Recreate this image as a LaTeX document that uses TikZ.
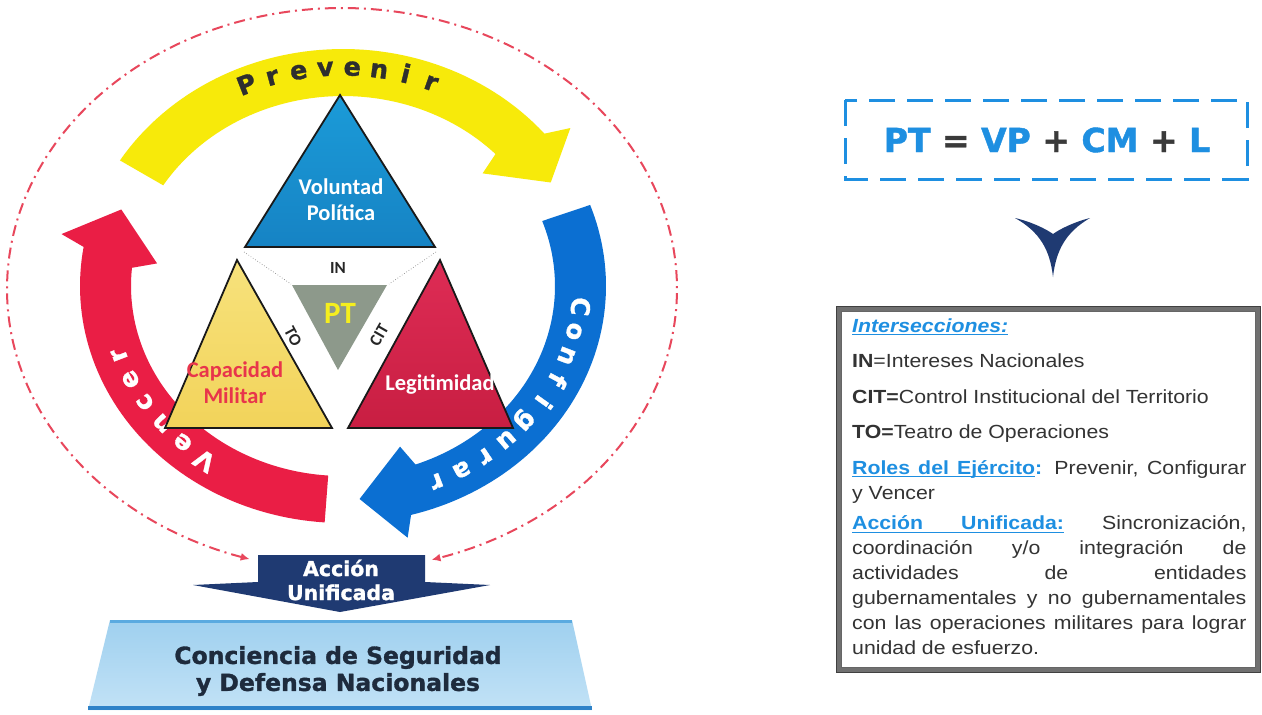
\documentclass[tikz,border=0pt]{standalone}
\usepackage{fontspec}
\setmainfont{Liberation Sans}
\newfontfamily\carl{Carlito}
\newfontfamily\heavy{DejaVu Sans}[BoldFeatures={FakeBold=1.3}]
\usepackage{graphicx}
\usetikzlibrary{arrows.meta}
\definecolor{ptblue}{HTML}{1E8FE1}
\definecolor{opgray}{HTML}{3A3A3A}
\definecolor{txt}{HTML}{333333}
\definecolor{arrY}{HTML}{F7EA0A}
\definecolor{arrB}{HTML}{0B6FD2}
\definecolor{arrR}{HTML}{EA1E45}
\definecolor{triB}{HTML}{1B9BD8}
\definecolor{triBd}{HTML}{1683C4}
\definecolor{triY}{HTML}{F7E27C}
\definecolor{triYd}{HTML}{F2D35A}
\definecolor{triR}{HTML}{DE2C55}
\definecolor{triRd}{HTML}{C81E42}
\definecolor{triG}{HTML}{8D998B}
\definecolor{navy}{HTML}{1F3A72}
\definecolor{dashred}{HTML}{E8475C}
\definecolor{slabA}{HTML}{9FD0EF}
\definecolor{slabB}{HTML}{C2E2F6}
\definecolor{slabTop}{HTML}{5AAAE0}
\definecolor{slabBot}{HTML}{2E82C8}
\definecolor{capred}{HTML}{E8354B}
\definecolor{ptyellow}{HTML}{F5EE1E}
\definecolor{textnavy}{HTML}{1E2B3D}
\definecolor{framegray}{HTML}{707070}
% underline helpers
\newcommand\uword[1]{\leavevmode\setbox0\hbox{#1}\rlap{\rule[-3pt]{\wd0}{1pt}}\box0}
\newcommand\ulspace{\leavevmode\leaders\hrule height -2pt depth 3pt\hskip\fontdimen2\font plus\fontdimen3\font minus\fontdimen4\font\relax}
% ellipse parameters of the ring of arrows
\def\Ccx{343}\def\Ccy{286}
\def\Crox{263}\def\Croy{237}
\def\Crix{212}\def\Criy{190}
\def\Crmx{237.5}\def\Crmy{213.5}
\def\Crbx{229.5}\def\Crby{205.5}
% #1 colour, #2 start, #3 outer shaft end, #4 outer barb, #5 tip, #6 inner barb, #7 inner shaft end
\newcommand\ringarrow[7]{%
  \fill[#1] plot[domain=#2:#3,samples=60] ({\Ccx+\Crox*cos(\x)},{\Ccy-\Croy*sin(\x)})
    -- ({\Ccx+1.21*\Crmx*cos(#4)},{\Ccy-1.21*\Crmy*sin(#4)})
    -- ({\Ccx+\Crmx*cos(#5)},{\Ccy-\Crmy*sin(#5)})
    -- ({\Ccx+0.79*\Crmx*cos(#6)},{\Ccy-0.79*\Crmy*sin(#6)})
    -- plot[domain=#7:#2,samples=60] ({\Ccx+\Crix*cos(\x)},{\Ccy-\Criy*sin(\x)}) -- cycle;}
% #1 letters, #2 first angle, #3 step, #4 style, #5 name prefix, #6 radial offset
\newcommand\arcword[6]{%
  \foreach \ch [count=\i] in {#1} {
    \pgfmathsetmacro\angl{#2-(\i-1)*#3}
    \pgfmathsetmacro\lrot{atan2(-\Crmy*cos(\angl),\Crmx*sin(\angl))}
    \node[#4, rotate=\lrot, anchor=base, inner sep=0pt] (#5-\i)
      at ({\Ccx+(\Crbx+#6)*cos(\angl)},{\Ccy-(\Crby+#6)*sin(\angl)}) {\ch};
  }}
\tikzset{
  arclbl/.style={font=\heavy\bfseries\fontsize{25.5}{28}\selectfont},
  tri/.style={draw=black!90, line width=1.8pt, line join=miter},
  trilbl/.style={font=\carl\bfseries\fontsize{22.5}{26}\selectfont, align=center, inner sep=0pt},
  smalllbl/.style={font=\carl\bfseries\fontsize{17}{20}\selectfont, text=black!85, inner sep=0pt},
}
\begin{document}
\begin{tikzpicture}[x=1pt,y=-1pt]
\useasboundingbox (0,0) rectangle (1262,715);
\fill[white] (0,0) rectangle (1262,715);

% dash-dot ellipse with arrows
\draw[dashred, line width=2pt, dash pattern=on 11pt off 5pt on 2pt off 5pt,
  {Latex[length=9pt,width=8pt]}-{Latex[length=9pt,width=8pt]}]
  plot[domain=254:-74.5, samples=220] ({342+335*cos(\x)},{289-281*sin(\x)});

% ring arrows
\ringarrow{arrY}{148}{40}{37.7}{29}{41.9}{44}
\ringarrow{arrB}{20}{-75}{-77}{-86}{-72.3}{-70}
\ringarrow{arrR}{266}{170.5}{168.4}{159}{172.3}{174.5}

\arcword{P,r,e,v,e,n,i,r}{113.4}{6.4}{arclbl, text=black!82}{prev}{5}
\arcword{C,o,n,f,i,g,u,r,a,r}{-5.5}{6.79}{arclbl, text=white}{conf}{0}
\arcword{V,e,n,c,e,r}{234.4}{7.1}{arclbl, text=white}{venc}{0}

% triangles
\shadedraw[tri, top color=triB, bottom color=triBd] (340,95) -- (245,247) -- (435,247) -- cycle;
\shadedraw[tri, top color=triY, bottom color=triYd] (237,260) -- (165,428) -- (332,428) -- cycle;
\shadedraw[tri, top color=triR, bottom color=triRd] (440,260) -- (348,428) -- (513,428) -- cycle;
\fill[triG] (292,285) -- (387,285) -- (338,370) -- cycle;
\draw[black!45, dotted, line width=0.7pt] (244,252) -- (291,284);
\draw[black!45, dotted, line width=0.7pt] (436,252) -- (389,284);

\node[trilbl, text=white] (vp) at (341,200) {Voluntad\\Política};
\node[trilbl, text=capred] (cm) at (235,383) {Capacidad\\Militar};
\node[trilbl, text=white] (leg) at (440,384) {Legitimidad};
\node[smalllbl] (in) at (338,268) {IN};
\node[font=\carl\bfseries\fontsize{31}{34}\selectfont, text=ptyellow, inner sep=0pt] (pt) at (340,313) {PT};
\node[smalllbl, rotate=-62] (to) at (293,336) {TO};
\node[smalllbl, rotate=60] (cit) at (379,335) {CIT};

% Accion Unificada arrow
\fill[navy] (258,555) -- (425,555) -- (425,582) -- (490,585) -- (340,612) -- (193,585) -- (258,582) -- cycle;
\node[font=\heavy\bfseries\fontsize{20.5}{24}\selectfont, text=white, align=center, inner sep=0pt] (accion) at (341,580) {Acción\\Unificada};

% Conciencia slab
\shade[top color=slabA, bottom color=slabB] (110,620) -- (572,620) -- (592,710) -- (88,710) -- cycle;
\draw[slabTop, line width=3pt] (110,621) -- (572,621);
\draw[slabBot, line width=4pt] (88,708) -- (592,708);
\node[font=\heavy\bfseries\fontsize{23.5}{27}\selectfont, text=textnavy, align=center, inner sep=0pt] (conc) at (338,671) {Conciencia de Seguridad\\y Defensa Nacionales};

% formula box
\draw[ptblue, line width=3pt, dash pattern=on 26pt off 12pt] (845,100) rectangle (1247,179);
\node[font=\heavy\bfseries\fontsize{33}{38}\selectfont, inner sep=0pt] (formula) at (1047,140)
  {\textcolor{ptblue}{PT} \textcolor{opgray}{=} \textcolor{ptblue}{VP} \textcolor{opgray}{+} \textcolor{ptblue}{CM} \textcolor{opgray}{+} \textcolor{ptblue}{L}};

% chevron
\fill[navy] (1015,218) .. controls (1032,222) and (1046,229) .. (1053,234)
  .. controls (1060,229) and (1074,222) .. (1090,218)
  .. controls (1066,232) and (1056,250) .. (1053,277)
  .. controls (1050,250) and (1040,232) .. (1015,218) -- cycle;

% info box
\draw[framegray, line width=4pt] (839,309) rectangle (1258,670);
\draw[black!75, line width=0.8pt] (836.6,306.6) rectangle (1260.4,672.4);
\draw[black!60, line width=0.6pt] (841.4,311.4) rectangle (1255.6,667.6);
\node[anchor=base west, inner sep=0pt] (info) at (852,332) {\scalebox{1.12}[1]{\parbox[t]{352pt}{%
  \fontsize{19}{25}\selectfont\setlength\parindent{0pt}\setlength\parskip{10.5pt}\leavevmode\color{txt}%
  {\color{ptblue}\bfseries\itshape\uword{Intersecciones:}}\par
  \textbf{IN}=Intereses Nacionales\par
  \textbf{CIT=}Control Institucional del Territorio\par
  \textbf{TO=}Teatro de Operaciones\par
  {\color{ptblue}\bfseries\uword{Roles}\ulspace\uword{del}\ulspace\uword{Ejército}:} Prevenir, Configurar\linebreak y Vencer\par
  \vspace{-5pt}{\color{ptblue}\bfseries\uword{Acción}\ulspace\uword{Unificada:}} Sincronización,\linebreak
  coordinación y/o integración de\linebreak
  actividades de entidades\linebreak
  gubernamentales y no gubernamentales\linebreak
  con las operaciones militares para lograr\linebreak
  unidad de esfuerzo.\par}}};
\end{tikzpicture}
\end{document}
